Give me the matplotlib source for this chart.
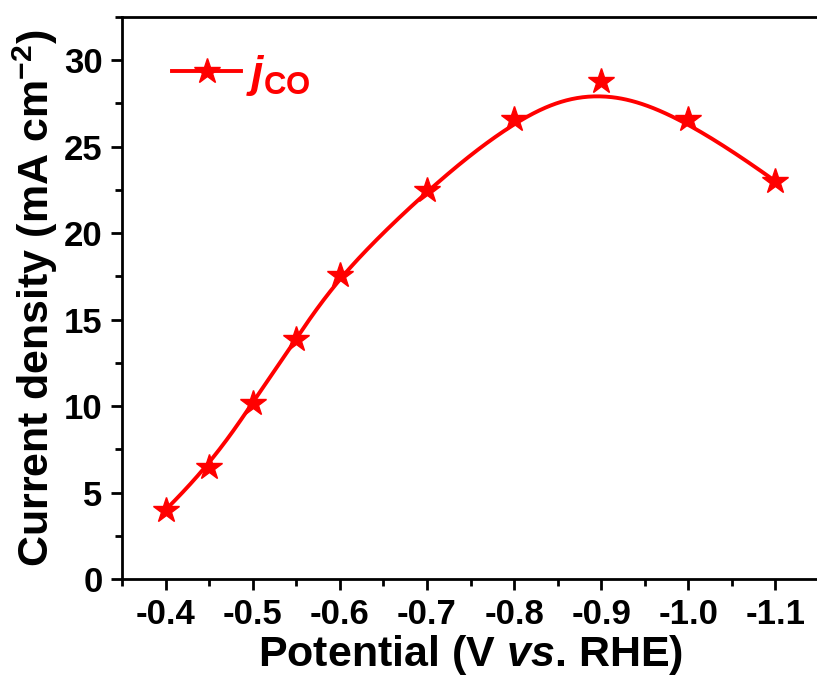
import numpy as np
import matplotlib
matplotlib.use("Agg")
import matplotlib.pyplot as plt
from matplotlib.ticker import MultipleLocator

plt.rcParams['font.family'] = ['Liberation Sans', 'DejaVu Sans']
plt.rcParams['font.weight'] = 'bold'
plt.rcParams['mathtext.fontset'] = 'custom'
plt.rcParams['mathtext.rm'] = 'Liberation Sans:bold'
plt.rcParams['mathtext.it'] = 'Liberation Sans:italic:bold'
plt.rcParams['mathtext.bf'] = 'Liberation Sans:bold'

potential = [-0.40, -0.45, -0.50, -0.55, -0.60, -0.70, -0.80, -0.90, -1.00, -1.10]
j_co = [4.0, 6.5, 10.2, 13.9, 17.6, 22.5, 26.6, 28.8, 26.6, 23.0]
xticks = [-0.4, -0.5, -0.6, -0.7, -0.8, -0.9, -1.0, -1.1]
yticks = [0, 5, 10, 15, 20, 25, 30]


def bspline(P, k=3, num=500):
    P = np.asarray(P, dtype=float)
    n = len(P)
    inner = np.arange(1, n - k)
    t = np.concatenate([np.zeros(k + 1), inner, np.full(k + 1, n - k)]).astype(float)
    u = np.linspace(0, n - k, num)
    B = np.zeros((len(u), len(t) - 1))
    for i in range(len(t) - 1):
        B[:, i] = ((t[i] <= u) & (u < t[i + 1])).astype(float)
    B[u >= t[-1], n - 1] = 1.0
    for p in range(1, k + 1):
        Bn = np.zeros((len(u), len(t) - 1 - p))
        for i in range(len(t) - 1 - p):
            d1 = t[i + p] - t[i]
            d2 = t[i + p + 1] - t[i + 1]
            term = np.zeros(len(u))
            if d1 > 0:
                term += (u - t[i]) / d1 * B[:, i]
            if d2 > 0:
                term += (t[i + p + 1] - u) / d2 * B[:, i + 1]
            Bn[:, i] = term
        B = Bn
    return B @ P


ctrl = np.column_stack([potential, j_co])
curve = bspline(ctrl)

fig = plt.figure(figsize=(8.17, 6.78), dpi=100)
ax = fig.add_axes([122 / 817, 99 / 678, 697 / 817, 562 / 678])

red = '#ff0000'
ax.plot(curve[:, 0], curve[:, 1], color=red, lw=2.8, zorder=2)
ax.plot(potential, j_co, ls='none', marker='*', ms=19, color=red, zorder=3)
ax.plot([], [], color=red, lw=2.8, marker='*', ms=19, label=r'$\mathit{j}_{\mathrm{CO}}$')

ax.set_xlim(-0.35, -1.15)
ax.set_ylim(0, 32.5)
ax.set_xticks(xticks)
ax.set_xticklabels([f'{v:.1f}' for v in xticks])
ax.set_yticks(yticks)
ax.xaxis.set_minor_locator(MultipleLocator(0.05))
ax.yaxis.set_minor_locator(MultipleLocator(2.5))
ax.tick_params(which='major', direction='out', length=8, width=2, labelsize=25, pad=6)
ax.tick_params(which='minor', direction='out', length=5, width=2)
for lab in ax.get_xticklabels() + ax.get_yticklabels():
    lab.set_fontweight('bold')
for s in ax.spines.values():
    s.set_linewidth(2)

ax.set_xlabel(r'Potential (V $\mathit{vs}$. RHE)', fontsize=31, fontweight='bold', labelpad=1)
ax.set_ylabel(r'Current density (mA cm$^{\mathbf{-2}}$)', fontsize=31, fontweight='bold', labelpad=3)

leg = ax.legend(loc='upper left', frameon=False, fontsize=32, handlelength=1.55,
                handletextpad=0.1, borderaxespad=0.0, borderpad=0.0,
                bbox_to_anchor=(0.072, 0.936))
for tx in leg.get_texts():
    tx.set_color(red)

fig.savefig('out.png', dpi=100)
